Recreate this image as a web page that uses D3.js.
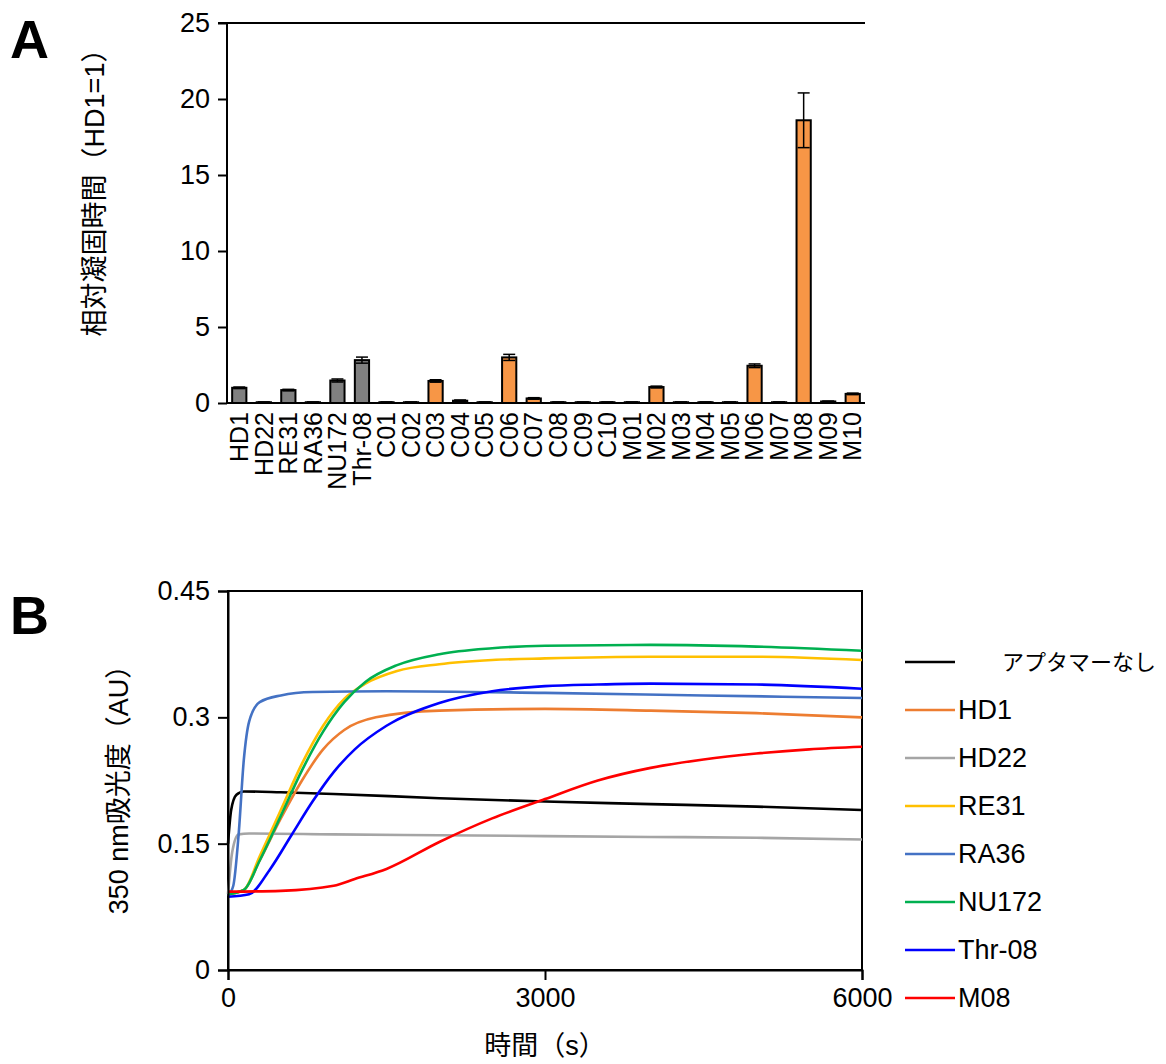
<!DOCTYPE html>
<html><head><meta charset="utf-8">
<script src="https://cdn.jsdelivr.net/npm/d3@7"></script>
<style>
body{margin:0;background:#fff;}
text{font-family:"Liberation Sans",Arial,"Noto Sans CJK JP",sans-serif;fill:#000;}
</style></head><body>
<svg id="c" width="1166" height="1064"></svg>
<script>
// ---------- Panel A data ----------
const categories = ["HD1","HD22","RE31","RA36","NU172","Thr-08","C01","C02","C03","C04","C05","C06","C07","C08","C09","C10","M01","M02","M03","M04","M05","M06","M07","M08","M09","M10"];
const relTime   = [1.0,0.05,0.85,0.05,1.48,2.82,0.05,0.05,1.45,0.15,0.05,3.0,0.3,0.05,0.05,0.05,0.05,1.05,0.05,0.05,0.05,2.45,0.05,18.6,0.1,0.6];
const relErr    = [0.05,0.02,0.05,0.02,0.1,0.2,0.02,0.02,0.08,0.05,0.02,0.2,0.05,0.02,0.02,0.02,0.02,0.06,0.02,0.02,0.02,0.12,0.02,1.8,0.03,0.05];
const barGroup  = ["ref","ref","ref","ref","ref","ref","new","new","new","new","new","new","new","new","new","new","new","new","new","new","new","new","new","new","new","new"];
const yTicksA = [0,5,10,15,20,25];

// ---------- Panel B data ----------
const seriesNames = ["アプタマーなし","HD1","HD22","RE31","RA36","NU172","Thr-08","M08"];
const seriesColors = ["#000000","#ED7D31","#A5A5A5","#FFC000","#4472C4","#00B050","#0000FF","#FF0000"];
const tNone  = [0,30,80,150,500,1000,2000,3000,4000,5000,6000];
const vNone  = [0.15,0.19,0.208,0.212,0.211,0.209,0.204,0.200,0.197,0.194,0.190];
const tHD1   = [0,150,300,500,700,900,1100,1400,2000,3000,4000,5000,6000];
const vHD1   = [0.09,0.095,0.13,0.18,0.225,0.262,0.285,0.300,0.308,0.310,0.308,0.305,0.300];
const tHD22  = [0,40,100,200,1000,2000,3000,4000,5000,6000];
const vHD22  = [0.09,0.14,0.161,0.162,0.161,0.160,0.159,0.158,0.157,0.155];
const tRE31  = [0,150,300,500,700,900,1100,1300,1600,2000,2500,3000,4000,5000,6000];
const vRE31  = [0.09,0.095,0.135,0.19,0.245,0.29,0.322,0.340,0.355,0.363,0.368,0.370,0.372,0.372,0.368];
const tRA36  = [0,50,100,150,200,300,500,800,1500,3000,4500,6000];
const vRA36  = [0.088,0.10,0.16,0.25,0.295,0.318,0.326,0.330,0.331,0.329,0.326,0.323];
const tNU172 = [0,150,300,500,700,900,1100,1300,1600,2000,2500,3000,4000,5000,6000];
const vNU172 = [0.09,0.095,0.13,0.183,0.237,0.283,0.318,0.342,0.362,0.375,0.382,0.385,0.386,0.384,0.379];
const tThr   = [0,200,400,600,800,1000,1200,1500,2000,2500,3000,3500,4000,5000,6000];
const vThr   = [0.087,0.09,0.12,0.16,0.2,0.235,0.262,0.29,0.317,0.331,0.337,0.339,0.340,0.339,0.334];
const tM08   = [0,500,1000,1200,1500,2000,2500,3000,3500,4000,4500,5000,5500,6000];
const vM08   = [0.093,0.094,0.10,0.108,0.12,0.152,0.180,0.203,0.225,0.240,0.250,0.257,0.262,0.265];
const xTicksB = [0,3000,6000];
const yTicksB = [0,0.15,0.3,0.45];

const seriesT = [tNone,tHD1,tHD22,tRE31,tRA36,tNU172,tThr,tM08];
const seriesV = [vNone,vHD1,vHD22,vRE31,vRA36,vNU172,vThr,vM08];

const svg = d3.select("#c");
const FS = 27;

// ================= Panel A =================
const A = {l:227, r:865, t:23, b:403};
const xA = d3.scaleBand().domain(categories).range([A.l, A.r]).paddingInner(0.42).paddingOuter(0.21);
const yA = d3.scaleLinear().domain([0,25]).range([A.b, A.t]);

svg.append("text").attr("x",10).attr("y",58).attr("font-size",54).attr("font-weight","bold").text("A");

const gA = svg.append("g");
gA.selectAll("rect.bar").data(categories).join("rect")
  .attr("x",d=>xA(d)).attr("width",xA.bandwidth())
  .attr("y",(d,i)=>yA(relTime[i])).attr("height",(d,i)=>yA(0)-yA(relTime[i]))
  .attr("fill",(d,i)=>barGroup[i]==="ref"?"#808080":"#F79646")
  .attr("stroke","#000").attr("stroke-width",2);
const eb = gA.selectAll("g.err").data(categories).join("g");
const cx = d=>xA(d)+xA.bandwidth()/2;
eb.append("line")
  .attr("x1",cx).attr("x2",cx)
  .attr("y1",(d,i)=>yA(relTime[i]+relErr[i])).attr("y2",(d,i)=>yA(Math.max(0,relTime[i]-relErr[i])))
  .attr("stroke","#000").attr("stroke-width",1.5);
eb.append("line")
  .attr("x1",d=>cx(d)-6).attr("x2",d=>cx(d)+6)
  .attr("y1",(d,i)=>yA(relTime[i]+relErr[i])).attr("y2",(d,i)=>yA(relTime[i]+relErr[i]))
  .attr("stroke","#000").attr("stroke-width",1.5);
eb.append("line")
  .attr("x1",d=>cx(d)-6).attr("x2",d=>cx(d)+6)
  .attr("y1",(d,i)=>yA(Math.max(0,relTime[i]-relErr[i]))).attr("y2",(d,i)=>yA(Math.max(0,relTime[i]-relErr[i])))
  .attr("stroke","#000").attr("stroke-width",1.5);

const yAxA = gA.append("g").attr("transform",`translate(${A.l},0)`)
  .call(d3.axisLeft(yA).tickValues(yTicksA).tickSize(9).tickPadding(8).tickFormat(d3.format("d")));
yAxA.attr("font-size",null).attr("font-family",null);
yAxA.selectAll("text").attr("font-size",FS);
yAxA.selectAll("line,path").attr("stroke","#000").attr("stroke-width",2);
yAxA.select("path").attr("d",`M0,${A.b}V${A.t}`);
gA.append("line").attr("x1",A.l-9).attr("x2",A.r).attr("y1",A.t).attr("y2",A.t).attr("stroke","#000").attr("stroke-width",2);
const xAxA = gA.append("g").attr("transform",`translate(0,${A.b})`)
  .call(d3.axisBottom(xA).tickSize(0).tickPadding(10));
xAxA.attr("font-size",null).attr("font-family",null);
xAxA.select("path").attr("d",`M${A.l},0H${A.r}`).attr("stroke","#000").attr("stroke-width",2);
xAxA.selectAll(".tick text").attr("font-size",25)
  .attr("transform","rotate(-90)").attr("text-anchor","end")
  .attr("x",-9).attr("y",0).attr("dx",0).attr("dy","0.35em");
svg.append("text").attr("transform","translate(104,186) rotate(-90)").attr("text-anchor","middle")
  .attr("font-size",FS).text("相対凝固時間（HD1=1）");

// ================= Panel B =================
const B = {l:228, r:862, t:591, b:970};
const xB = d3.scaleLinear().domain([0,6000]).range([B.l,B.r]);
const yB = d3.scaleLinear().domain([0,0.45]).range([B.b,B.t]);

svg.append("text").attr("x",10).attr("y",634).attr("font-size",54).attr("font-weight","bold").text("B");

const gB = svg.append("g");
gB.append("rect").attr("x",B.l).attr("y",B.t).attr("width",B.r-B.l).attr("height",B.b-B.t)
  .attr("fill","none").attr("stroke","#000").attr("stroke-width",2);

const line = d3.line().x(d=>xB(d[0])).y(d=>yB(d[1])).curve(d3.curveMonotoneX);
seriesNames.forEach((n,i)=>{
  const pts = seriesT[i].map((t,j)=>[t,seriesV[i][j]]);
  gB.append("path").datum(pts).attr("d",line).attr("fill","none")
    .attr("stroke",seriesColors[i]).attr("stroke-width",2.6);
});

const yAxB = gB.append("g").attr("transform",`translate(${B.l},0)`)
  .call(d3.axisLeft(yB).tickValues(yTicksB).tickSize(10).tickPadding(8).tickFormat(d=>d===0?"0":String(d)));
yAxB.attr("font-size",null).attr("font-family",null);
yAxB.selectAll("text").attr("font-size",FS);
yAxB.selectAll("line,path").attr("stroke","#000").attr("stroke-width",2);
const xAxB = gB.append("g").attr("transform",`translate(0,${B.b})`)
  .call(d3.axisBottom(xB).tickValues(xTicksB).tickSize(10).tickPadding(8).tickFormat(d3.format("d")));
xAxB.attr("font-size",null).attr("font-family",null);
xAxB.selectAll("text").attr("font-size",FS);
xAxB.selectAll("line,path").attr("stroke","#000").attr("stroke-width",2);

svg.append("text").attr("transform","translate(128,783) rotate(-90)").attr("text-anchor","middle")
  .attr("font-size",FS).text("350 nm吸光度（AU）");
svg.append("text").attr("x",545).attr("y",1055).attr("text-anchor","middle")
  .attr("font-size",FS).text("時間（s）");

const lg = svg.append("g");
seriesNames.forEach((n,i)=>{
  const y = 662 + i*48;
  lg.append("line").attr("x1",905).attr("x2",955).attr("y1",y).attr("y2",y)
    .attr("stroke",seriesColors[i]).attr("stroke-width",2.6);
  lg.append("text").attr("x", i===0?1002:958).attr("y",y).attr("dy","0.35em")
    .attr("font-size",i===0?22:FS).text(n);
});
</script></body></html>
